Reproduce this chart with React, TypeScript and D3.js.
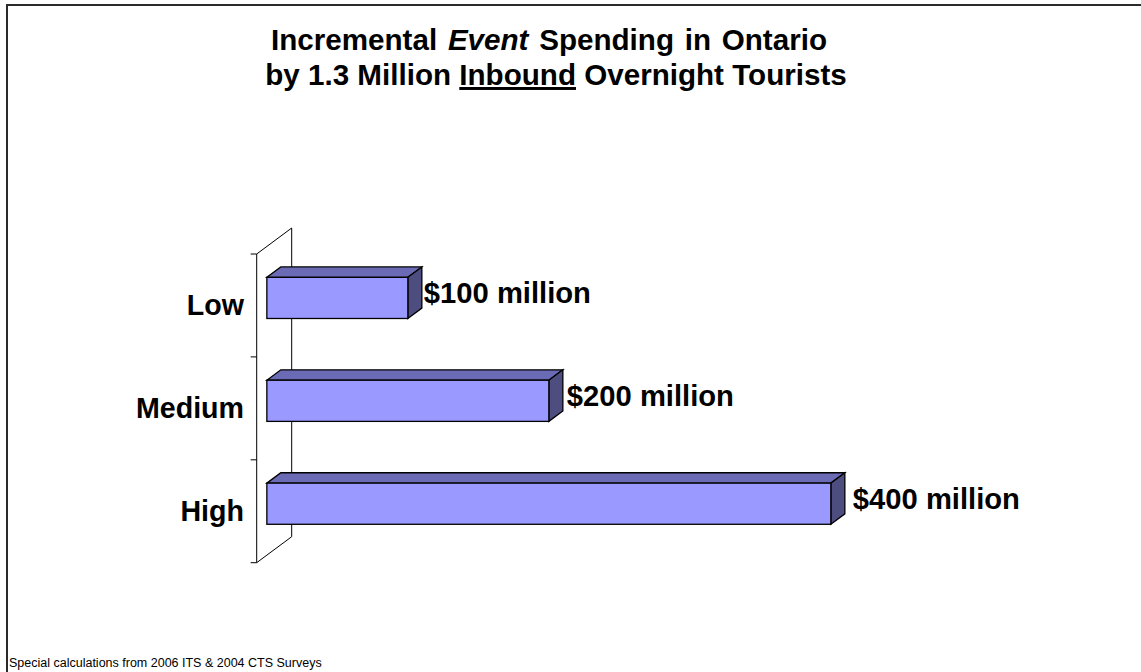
import React from "react";
import * as d3 from "d3";

const categories = ["Low", "Medium", "High"];
const values = [100, 200, 400];
const valueLabels = ["$100 million", "$200 million", "$400 million"];
const footnote = "Special calculations from 2006 ITS & 2004 CTS Surveys";

const W = 1141;
const H = 672;
const FONT = "Arial, 'Liberation Sans', Helvetica, sans-serif";

export default function App() {
  const axisX = 256.7;
  const wallDx = 35;
  const wallDy = -26;
  const f1 = 0.29;
  const f2 = 0.69;
  const y = d3.scaleBand<string>().domain(categories).range([254, 562.7]).paddingInner(0).paddingOuter(0);
  const x = d3.scaleLinear().domain([0, 400]).range([0, 564]);
  const barH = y.bandwidth() * 0.4;
  const yTop = y.range()[0];
  const yBot = y.range()[1];

  const ticks = [...categories.map((c) => y(c) as number), yBot];

  return (
    <div style={{ position: "fixed", left: 0, top: 0, width: W, height: H, background: "#fff" }}>
      <svg width={W} height={H} style={{ display: "block" }} fontFamily={FONT}>
        <rect x={0} y={0} width={W} height={H} fill="#fff" />
        {/* frame */}
        <path d={`M7,${H} V5 H${W}`} fill="none" stroke="#2b2b2b" strokeWidth={2} />

        {/* title */}
        <text x={549} y={50} textAnchor="middle" fontSize={29.6} fontWeight="bold" fill="#000" style={{ wordSpacing: "2.5px" }}>
          <tspan>Incremental </tspan>
          <tspan fontStyle="italic">Event</tspan>
          <tspan> Spending in Ontario</tspan>
        </text>
        <text x={556} y={85} textAnchor="middle" fontSize={29.6} fontWeight="bold" fill="#000">
          <tspan>by 1.3 Million </tspan>
          <tspan textDecoration="underline">Inbound</tspan>
          <tspan> Overnight Tourists</tspan>
        </text>

        {/* back wall & axis */}
        <g stroke="#000" strokeWidth={1} fill="none">
          <line x1={axisX + wallDx} y1={yTop + wallDy} x2={axisX + wallDx} y2={yBot + wallDy} />
          <line x1={axisX} y1={yTop} x2={axisX + wallDx} y2={yTop + wallDy} />
          <line x1={axisX} y1={yBot} x2={axisX + wallDx} y2={yBot + wallDy} />
          <line x1={axisX} y1={yTop} x2={axisX} y2={yBot} />
          {ticks.map((t, i) => (
            <line key={i} x1={axisX - 6} y1={t} x2={axisX} y2={t} />
          ))}
        </g>

        {/* bars */}
        {categories.map((c, i) => {
          const yc = (y(c) as number) + y.bandwidth() / 2;
          const fx0 = axisX + wallDx * f1;
          const fy = yc + wallDy * f1;
          const fx1 = fx0 + x(values[i]);
          const top = fy - barH / 2;
          const bot = fy + barH / 2;
          const ddx = wallDx * (f2 - f1);
          const ddy = wallDy * (f2 - f1);
          const gap = 2 + (values[i] - 100) * 0.02;
          return (
            <g key={c} stroke="#000" strokeWidth={1.3} strokeLinejoin="miter">
              <path
                d={`M${fx0},${top} L${fx0 + ddx},${top + ddy} L${fx1 + ddx},${top + ddy} L${fx1},${top} Z`}
                fill="#6b6bb5"
              />
              <path
                d={`M${fx1},${top} L${fx1 + ddx},${top + ddy} L${fx1 + ddx},${bot + ddy} L${fx1},${bot} Z`}
                fill="#4d4d80"
              />
              <rect x={fx0} y={top} width={fx1 - fx0} height={bot - top} fill="#9999ff" />
              <text
                x={fx1 + ddx + gap}
                y={(top + ddy + bot) / 2 + 10}
                fontSize={29.2}
                fontWeight="bold"
                fill="#000"
                stroke="none"
              >
                {valueLabels[i]}
              </text>
            </g>
          );
        })}

        {/* category labels */}
        {categories.map((c) => (
          <text
            key={c}
            x={244}
            y={(y(c) as number) + y.bandwidth() / 2 + 10}
            textAnchor="end"
            fontSize={28.6}
            fontWeight="bold"
            fill="#000"
          >
            {c}
          </text>
        ))}

        {/* footnote */}
        <text x={9} y={667} fontSize={12.5} fill="#000">
          {footnote}
        </text>
      </svg>
    </div>
  );
}
